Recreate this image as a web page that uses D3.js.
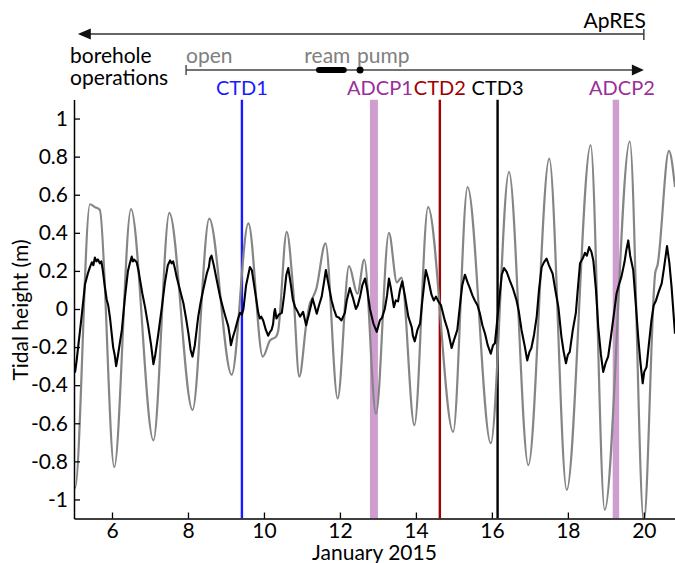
<!DOCTYPE html>
<html><head><meta charset="utf-8">
<script src="https://cdn.jsdelivr.net/npm/d3@7"></script>
<style>
body{margin:0;background:#fff}
text{font-family:Lato,"Open Sans",sans-serif}
</style>
</head><body>
<svg id="chart" width="675" height="563"></svg>
<script>
// ---- data (days of January 2015, tidal height in m) ----
const modelDay = [5.00,5.03,5.42,5.55,5.68,6.06,6.50,7.09,7.51,8.12,8.56,9.15,9.59,9.97,10.16,10.32,10.37,10.60,10.77,10.93,11.12,11.21,11.26,11.37,11.62,11.94,12.24,12.46,12.64,12.95,13.29,13.50,13.62,13.96,14.32,14.98,15.36,15.97,16.45,16.96,17.51,17.97,18.60,18.97,19.63,20.00,20.30,20.36,20.66,20.82];
const modelHeight = [-0.93,-0.94,0.55,0.535,0.52,-0.83,0.525,-0.69,0.505,-0.53,0.475,-0.345,0.45,-0.25,-0.165,-0.145,-0.12,0.405,0.10,-0.355,-0.07,0.03,0.05,0.10,0.345,-0.47,0.225,0.08,0.26,-0.55,0.40,0.14,0.165,-0.61,0.535,-0.645,0.64,-0.705,0.72,-0.82,0.79,-0.95,0.86,-1.055,0.88,-1.12,0.19,0.23,0.83,0.64];

const obsDay = [5.00,5.03,5.07,5.12,5.20,5.29,5.37,5.42,5.47,5.51,5.55,5.59,5.63,5.68,5.72,5.76,5.81,5.86,5.90,5.95,6.03,6.07,6.11,6.16,6.26,6.34,6.42,6.47,6.52,6.55,6.58,6.65,6.70,6.74,6.80,6.87,6.95,7.03,7.09,7.14,7.22,7.32,7.39,7.47,7.53,7.57,7.61,7.66,7.70,7.79,7.88,7.95,8.01,8.07,8.12,8.18,8.27,8.33,8.40,8.50,8.55,8.58,8.62,8.68,8.76,8.84,8.93,9.00,9.06,9.10,9.13,9.18,9.24,9.32,9.37,9.42,9.46,9.53,9.63,9.68,9.76,9.85,9.89,9.93,9.98,10.05,10.11,10.16,10.20,10.24,10.27,10.29,10.33,10.39,10.47,10.53,10.59,10.64,10.71,10.76,10.82,10.89,10.95,11.03,11.07,11.11,11.18,11.28,11.33,11.39,11.45,11.52,11.58,11.63,11.68,11.78,11.84,11.91,11.97,12.04,12.13,12.18,12.26,12.34,12.42,12.47,12.53,12.59,12.66,12.72,12.79,12.88,12.97,13.05,13.11,13.18,13.24,13.29,13.34,13.42,13.47,13.53,13.58,13.64,13.71,13.80,13.89,13.92,13.97,14.04,14.11,14.17,14.26,14.32,14.41,14.47,14.53,14.59,14.66,14.76,14.84,14.94,15.00,15.09,15.16,15.22,15.29,15.36,15.42,15.49,15.55,15.62,15.68,15.75,15.82,15.89,15.97,16.03,16.08,16.14,16.21,16.26,16.32,16.39,16.47,16.55,16.65,16.71,16.78,16.86,16.93,16.99,17.04,17.11,17.18,17.24,17.31,17.37,17.44,17.50,17.60,17.67,17.75,17.83,17.89,17.95,18.00,18.05,18.13,18.21,18.26,18.32,18.39,18.45,18.50,18.56,18.62,18.67,18.74,18.80,18.87,18.93,19.00,19.06,19.13,19.19,19.28,19.34,19.41,19.49,19.54,19.59,19.64,19.72,19.79,19.85,19.91,19.97,20.01,20.07,20.13,20.20,20.26,20.32,20.39,20.47,20.53,20.61,20.67,20.73,20.82];
const obsHeight = [-0.31,-0.33,-0.27,-0.18,-0.04,0.13,0.19,0.22,0.245,0.23,0.27,0.25,0.26,0.24,0.25,0.20,0.12,0.05,0.02,-0.05,-0.20,-0.24,-0.30,-0.24,-0.11,0.06,0.20,0.24,0.275,0.25,0.26,0.245,0.20,0.15,0.08,0.01,-0.085,-0.19,-0.29,-0.24,-0.13,0.02,0.135,0.23,0.255,0.24,0.25,0.21,0.17,0.10,0.03,-0.05,-0.125,-0.215,-0.25,-0.19,-0.04,0.03,0.10,0.19,0.22,0.265,0.28,0.23,0.15,0.07,0.00,-0.05,-0.09,-0.14,-0.19,-0.15,-0.11,-0.05,-0.02,-0.03,0.00,0.125,0.22,0.205,0.10,-0.02,-0.05,-0.04,-0.06,-0.11,-0.14,-0.12,-0.11,-0.08,-0.02,0.00,-0.05,-0.03,-0.02,0.07,0.18,0.215,0.125,0.05,0.01,-0.015,-0.04,-0.015,-0.05,-0.085,-0.03,0.055,0.02,-0.025,0.02,0.065,0.14,0.205,0.15,0.045,0.00,-0.04,-0.045,-0.06,-0.02,0.045,0.11,0.06,0.00,0.02,0.065,0.125,0.16,0.10,0.00,-0.075,-0.12,-0.06,-0.045,0.00,0.07,0.16,0.11,0.01,0.045,0.04,0.10,0.145,0.07,-0.04,-0.095,-0.14,-0.17,-0.11,-0.075,0.045,0.205,0.16,0.075,0.045,0.065,0.04,0.02,-0.06,-0.11,-0.205,-0.165,-0.11,0.02,0.125,0.18,0.14,0.11,0.07,0.045,0.02,-0.02,-0.085,-0.13,-0.19,-0.235,-0.19,-0.18,-0.06,0.08,0.18,0.215,0.195,0.15,0.11,0.045,-0.015,-0.11,-0.19,-0.27,-0.225,-0.205,-0.135,-0.04,0.10,0.22,0.245,0.265,0.23,0.185,0.10,0.01,-0.145,-0.225,-0.285,-0.24,-0.225,-0.11,-0.02,0.10,0.24,0.265,0.295,0.28,0.325,0.30,0.255,0.10,-0.095,-0.24,-0.33,-0.28,-0.25,-0.15,-0.06,0.08,0.125,0.17,0.245,0.31,0.36,0.28,0.205,0.02,-0.145,-0.28,-0.39,-0.33,-0.305,-0.19,-0.06,0.02,0.045,0.09,0.135,0.215,0.33,0.245,0.115,-0.13];

const xTicks = [6,8,10,12,14,16,18,20];
const yTicks = [-1,-0.8,-0.6,-0.4,-0.2,0,0.2,0.4,0.6,0.8,1];

const markerNames  = ["CTD1","ADCP1","CTD2","CTD3","ADCP2"];
const markerStart  = [9.42,12.79,14.63,16.15,19.18];
const markerEnd    = [9.42,13.00,14.63,16.15,19.35];
const markerColors = ["#1a1aff","#cf9dcf","#a00000","#000000","#cf9dcf"];
const markerLabelColors = ["#1a1aff","#9a2e9a","#a00000","#000000","#9a2e9a"];

const apresStart = 5.1, apresEnd = 20.0;
const opsStart = 7.95, opsEnd = 20.0;
const reamStart = 11.37, reamEnd = 12.18, pumpStart = 12.53;

// ---- layout ----
const svg = d3.select("#chart");
const x = d3.scaleLinear().domain([5, 20.82]).range([74, 675]);
const y = d3.scaleLinear().domain([-1.1, 1.1]).range([518.5, 99.5]);
const FS = 21;

svg.append("clipPath").attr("id","plot")
  .append("rect").attr("x",74).attr("y",99.5).attr("width",601).attr("height",419);

// markers (behind curves)
const mk = svg.append("g").attr("clip-path","url(#plot)");
markerNames.forEach((n,i)=>{
  const band = markerEnd[i] > markerStart[i];
  if (band) {
    mk.append("rect").attr("x",x(markerStart[i])).attr("y",99.5)
      .attr("width",x(markerEnd[i])-x(markerStart[i])).attr("height",419)
      .attr("fill",markerColors[i]);
  } else {
    mk.append("line").attr("x1",x(markerStart[i])).attr("x2",x(markerStart[i]))
      .attr("y1",99.5).attr("y2",518.5).attr("stroke",markerColors[i]).attr("stroke-width",2.4);
  }
  const cx = (x(markerStart[i])+x(markerEnd[i]))/2 + (band?6:0);
  svg.append("text").attr("x",cx).attr("y",95).attr("text-anchor","middle")
    .attr("font-size",20).attr("fill",markerLabelColors[i]).text(n);
});

// curves
const cg = svg.append("g").attr("clip-path","url(#plot)");
const modelPts = modelDay.map((d,i)=>[d,modelHeight[i]]);
const obsPts = obsDay.map((d,i)=>[d,obsHeight[i]]);
cg.append("path").datum(modelPts)
  .attr("d", d3.line().x(d=>x(d[0])).y(d=>y(d[1])).curve(d3.curveMonotoneX))
  .attr("fill","none").attr("stroke","#858585").attr("stroke-width",2.2);
cg.append("path").datum(obsPts)
  .attr("d", d3.line().x(d=>x(d[0])).y(d=>y(d[1])))
  .attr("fill","none").attr("stroke","#000").attr("stroke-width",2.1).attr("stroke-linejoin","round");

// axes
const ya = svg.append("g").attr("transform","translate(74,0)")
  .call(d3.axisLeft(y).tickValues(yTicks).tickSizeInner(-6).tickSizeOuter(0).tickPadding(6)
    .tickFormat(d=>String(+d.toFixed(1))));
const xa = svg.append("g").attr("transform","translate(0,518.5)")
  .call(d3.axisBottom(x).tickValues(xTicks).tickSizeInner(-6).tickSizeOuter(0).tickPadding(5));
[ya,xa].forEach(a=>{
  a.selectAll("text").attr("font-size",FS).attr("font-family","Lato").attr("fill","#000");
  a.select(".domain").attr("stroke","#000").attr("stroke-width",1.5);
  a.selectAll(".tick line").attr("stroke","#000").attr("stroke-width",1.3);
});

svg.append("text").attr("x",374.5).attr("y",559.5).attr("text-anchor","middle")
  .attr("font-size",FS).text("January 2015");
svg.append("text").attr("transform","translate(28,310) rotate(-90)")
  .attr("text-anchor","middle").attr("font-size",FS).text("Tidal height (m)");

// header: ApRES
const ay = 34;
svg.append("line").attr("x1",x(apresStart)+4).attr("x2",x(apresEnd)).attr("y1",ay).attr("y2",ay)
  .attr("stroke","#333").attr("stroke-width",1.6);
svg.append("path").attr("d",`M${x(apresStart)},${ay} L${x(apresStart)+13},${ay-5.5} L${x(apresStart)+13},${ay+5.5} Z`).attr("fill","#111");
svg.append("line").attr("x1",x(apresEnd)).attr("x2",x(apresEnd)).attr("y1",ay-5).attr("y2",ay+6)
  .attr("stroke","#333").attr("stroke-width",1.4);
svg.append("text").attr("x",x(apresEnd)+2).attr("y",28).attr("text-anchor","end")
  .attr("font-size",FS).text("ApRES");

// header: borehole operations
svg.append("text").attr("x",70).attr("y",63).attr("font-size",FS).text("borehole");
svg.append("text").attr("x",70).attr("y",85).attr("font-size",FS).text("operations");
const oy = 70;
svg.append("line").attr("x1",x(opsStart)).attr("x2",x(opsEnd)-8).attr("y1",oy).attr("y2",oy)
  .attr("stroke","#444").attr("stroke-width",1.6);
svg.append("line").attr("x1",x(opsStart)).attr("x2",x(opsStart)).attr("y1",oy-5).attr("y2",oy+5)
  .attr("stroke","#444").attr("stroke-width",1.4);
svg.append("path").attr("d",`M${x(opsEnd)},${oy} L${x(opsEnd)-12},${oy-5.5} L${x(opsEnd)-12},${oy+5.5} Z`).attr("fill","#111");
svg.append("line").attr("x1",x(reamStart)+3).attr("x2",x(reamEnd)-3).attr("y1",oy).attr("y2",oy)
  .attr("stroke","#000").attr("stroke-width",6).attr("stroke-linecap","round");
svg.append("circle").attr("cx",x(pumpStart)).attr("cy",oy).attr("r",3.5).attr("fill","#000");
svg.append("text").attr("x",x(opsStart)).attr("y",63).attr("font-size",FS).attr("fill","#808080").text("open");
svg.append("text").attr("x",(x(reamStart)+x(reamEnd))/2-4).attr("y",63).attr("text-anchor","middle")
  .attr("font-size",FS).attr("fill","#808080").text("ream");
svg.append("text").attr("x",x(pumpStart)-3).attr("y",63).attr("font-size",FS).attr("fill","#808080").text("pump");
</script>
</body></html>
